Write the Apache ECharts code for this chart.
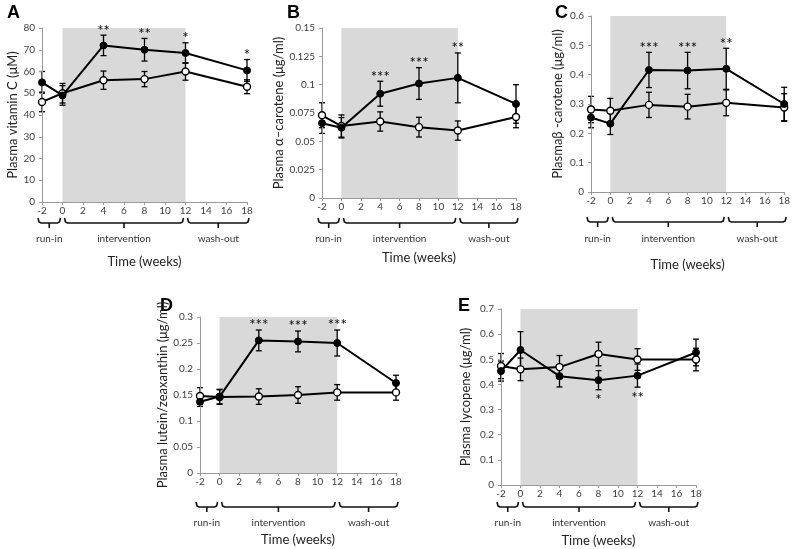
<!DOCTYPE html>
<html><head><meta charset="utf-8">
<script src="https://cdn.jsdelivr.net/npm/echarts@6/dist/echarts.min.js"></script>
<style>html,body{margin:0;padding:0;background:#fff}#c{width:793px;height:549px}</style>
</head><body><div id="c"></div>
<script>
// ---------- data ----------
const weeks = [-2, 0, 4, 8, 12, 18];
const phases = [[-2, 0, 'run-in'], [0, 12, 'intervention'], [12, 18, 'wash-out']];

// A: vitamin C (µM)
const vitCActive     = [55, 49, 72, 70, 68.5, 60.5];
const vitCActiveErr  = [5, 4.5, 4.7, 5.2, 4.7, 5];
const vitCControl    = [46, 50, 56, 56.5, 60, 53];
const vitCControlErr = [4.5, 4.5, 4.2, 3.5, 4, 3.2];
const vitCSig        = ['', '', '**', '**', '*', '*'];

// B: alpha-carotene (µg/ml)
const alphaActive     = [0.066, 0.062, 0.092, 0.101, 0.106, 0.083];
const alphaActiveErr  = [0.009, 0.009, 0.011, 0.014, 0.022, 0.017];
const alphaControl    = [0.073, 0.0635, 0.0675, 0.0625, 0.0595, 0.0715];
const alphaControlErr = [0.011, 0.0098, 0.0085, 0.0087, 0.0085, 0.0095];
const alphaSig        = ['', '', '***', '***', '**', ''];

// C: beta-carotene (µg/ml)
const betaActive     = [0.254, 0.233, 0.416, 0.414, 0.42, 0.30];
const betaActiveErr  = [0.035, 0.037, 0.06, 0.062, 0.07, 0.057];
const betaControl    = [0.281, 0.277, 0.297, 0.291, 0.304, 0.288];
const betaControlErr = [0.045, 0.042, 0.043, 0.042, 0.044, 0.047];
const betaSig        = ['', '', '***', '***', '**', ''];

// D: lutein/zeaxanthin (µg/ml)
const luteinActive     = [0.137, 0.147, 0.255, 0.253, 0.25, 0.173];
const luteinActiveErr  = [0.009, 0.014, 0.02, 0.02, 0.025, 0.015];
const luteinControl    = [0.148, 0.146, 0.147, 0.150, 0.155, 0.155];
const luteinControlErr = [0.016, 0.014, 0.015, 0.016, 0.015, 0.015];
const luteinSig        = ['', '', '***', '***', '***', ''];

// E: lycopene (µg/ml)
const lycoActive     = [0.453, 0.537, 0.433, 0.417, 0.435, 0.527];
const lycoActiveErr  = [0.04, 0.073, 0.043, 0.038, 0.046, 0.053];
const lycoControl    = [0.473, 0.46, 0.469, 0.521, 0.499, 0.499];
const lycoControlErr = [0.05, 0.045, 0.046, 0.047, 0.043, 0.045];
const lycoSig        = ['', '', '', '*', '**', ''];

// ---------- layout ----------
const panels = [
  {letter:'A', grid:{left:42, top:28, width:205, height:174}, yMax:80, yInt:10,
   yName:'Plasma vitamin C (μM)', yGap:22, xGap:53, braceY:223, labelY:239, lp:[7,11],
   a:vitCActive, ae:vitCActiveErr, c:vitCControl, ce:vitCControlErr, sig:vitCSig, below:false},
  {letter:'B', grid:{left:322, top:28, width:194, height:170}, yMax:0.15, yInt:0.025,
   yName:'Plasma α–carotene (μg/ml)', yGap:32, xGap:53, braceY:223, labelY:239, lp:[287,11],
   a:alphaActive, ae:alphaActiveErr, c:alphaControl, ce:alphaControlErr, sig:alphaSig, below:false},
  {letter:'C', grid:{left:591, top:16, width:195, height:176}, yMax:0.6, yInt:0.1,
   yName:'Plasmaβ -carotene (μg/ml)', yGap:27, xGap:66, braceY:222, labelY:239, lp:[555,11],
   a:betaActive, ae:betaActiveErr, c:betaControl, ce:betaControlErr, sig:betaSig, below:false},
  {letter:'D', grid:{left:200, top:317, width:196, height:156}, yMax:0.3, yInt:0.05,
   yName:'Plasma lutein/zeaxanthin (μg/ml)', yGap:28, xGap:60, braceY:507, labelY:523, lp:[160,304],
   a:luteinActive, ae:luteinActiveErr, c:luteinControl, ce:luteinControlErr, sig:luteinSig, below:false},
  {letter:'E', grid:{left:501, top:309, width:195, height:176}, yMax:0.7, yInt:0.1,
   yName:'Plasma lycopene (μg/ml)', yGap:29, xGap:49, braceY:507, labelY:523, lp:[458,304],
   a:lycoActive, ae:lycoActiveErr, c:lycoControl, ce:lycoControlErr, sig:lycoSig, below:true}
];

const FONT = 'Lato';
const grids = [], xAxes = [], yAxes = [], series = [], graphics = [];

panels.forEach((p, gi) => {
  grids.push(Object.assign({containLabel:false}, p.grid));
  xAxes.push({
    type:'value', gridIndex:gi, min:-2, max:18, interval:2, z:3,
    name:'Time (weeks)', nameLocation:'middle', nameGap:p.xGap,
    nameTextStyle:{fontFamily:FONT, fontSize:13, color:'#222'},
    axisLine:{onZero:false, lineStyle:{color:'#9a9a9a', width:1}},
    axisTick:{show:true, length:3, lineStyle:{color:'#9a9a9a'}},
    axisLabel:{fontFamily:FONT, fontSize:10, color:'#404040', margin:4},
    splitLine:{show:false}
  });
  yAxes.push({
    type:'value', gridIndex:gi, min:0, max:p.yMax, interval:p.yInt, z:3,
    name:p.yName, nameLocation:'middle', nameGap:p.yGap, nameRotate:90,
    nameTextStyle:{fontFamily:FONT, fontSize:13, color:'#222'},
    axisLine:{show:true, onZero:false, lineStyle:{color:'#9a9a9a', width:1}},
    axisTick:{show:true, length:3, lineStyle:{color:'#9a9a9a'}},
    axisLabel:{fontFamily:FONT, fontSize:10, color:'#404040', margin:7},
    splitLine:{show:false}
  });

  // shaded intervention period
  const inter = phases.filter(ph => ph[2] === 'intervention');
  series.push({
    type:'custom', xAxisIndex:gi, yAxisIndex:gi, z:1, silent:true, clip:false,
    data: inter.map(ph => [ph[0], ph[1], 0]), encode:{x:[0,1], y:2},
    renderItem(params, api) {
      const tl = api.coord([api.value(0), p.yMax]);
      const br = api.coord([api.value(1), 0]);
      return {type:'rect', shape:{x:tl[0], y:tl[1], width:br[0]-tl[0], height:br[1]-tl[1]},
              style:{fill:'#d9d9d9'}};
    }
  });

  // braces
  series.push({
    type:'custom', xAxisIndex:gi, yAxisIndex:gi, z:2, silent:true, clip:false,
    data: phases.map(ph => [ph[0], ph[1], 0]), encode:{x:[0,1], y:2},
    renderItem(params, api) {
      const i = params.dataIndex;
      let x0 = api.coord([api.value(0), 0])[0] + 2;
      let x1 = api.coord([api.value(1), 0])[0] - 2;
      if (i === 0) x0 -= 6;
      if (i === phases.length - 1) x1 += 4;
      const xm = (x0 + x1) / 2, L = p.braceY;
      const st = {stroke:'#111', lineWidth:1.6, fill:'none'};
      return {type:'group', children:[
        {type:'polyline', shape:{points:[[x0, L-5],[x0+1, L-1],[x0+3, L],[x1-3, L],[x1-1, L-1],[x1, L-5]]}, style:st},
        {type:'line', shape:{x1:xm, y1:L, x2:xm, y2:L+5}, style:st},
        {type:'text', x:xm, y:p.labelY, style:{text:phases[i][2], font:'10px ' + FONT, fill:'#333', align:'center', verticalAlign:'middle'}}
      ]};
    }
  });

  // error bars + significance marks
  [[p.a, p.ae, true], [p.c, p.ce, false]].forEach(([vals, errs, withSig]) => {
    series.push({
      type:'custom', xAxisIndex:gi, yAxisIndex:gi, z:3, silent:true, clip:false,
      data: weeks.map((w, i) => [w, vals[i], errs[i]]), encode:{x:0, y:1},
      renderItem(params, api) {
        const x = api.value(0), m = api.value(1), e = api.value(2);
        const t = api.coord([x, m + e]), b = api.coord([x, m - e]);
        const st = {stroke:'#000', lineWidth:1.3};
        const kids = [
          {type:'line', shape:{x1:t[0], y1:t[1], x2:b[0], y2:b[1]}, style:st},
          {type:'line', shape:{x1:t[0]-3, y1:t[1], x2:t[0]+3, y2:t[1]}, style:st},
          {type:'line', shape:{x1:b[0]-3, y1:b[1], x2:b[0]+3, y2:b[1]}, style:st}
        ];
        const s = withSig ? p.sig[params.dataIndex] : '';
        if (s) {
          kids.push({type:'text', x:t[0], y: p.below ? b[1] + 3 : t[1] + 3,
            style:{text:s, font:'15px ' + FONT, fill:'#000', align:'center',
                   verticalAlign: p.below ? 'top' : 'bottom'}});
        }
        return {type:'group', children:kids};
      }
    });
  });

  // lines with markers
  series.push({
    type:'line', xAxisIndex:gi, yAxisIndex:gi, z:5, silent:true,
    data: weeks.map((w, i) => [w, p.c[i]]),
    symbol:'circle', symbolSize:7, showAllSymbol:true,
    lineStyle:{color:'#000', width:2}, itemStyle:{color:'#fff', borderColor:'#000', borderWidth:1.4}
  });
  series.push({
    type:'line', xAxisIndex:gi, yAxisIndex:gi, z:6, silent:true,
    data: weeks.map((w, i) => [w, p.a[i]]),
    symbol:'circle', symbolSize:7, showAllSymbol:true,
    lineStyle:{color:'#000', width:2}, itemStyle:{color:'#000', borderColor:'#000', borderWidth:1}
  });

  graphics.push({type:'text', left:p.lp[0], top:p.lp[1] - 7,
    style:{text:p.letter, font:'bold 18px "Liberation Sans", Arial, sans-serif', fill:'#000'}});
});

const chart = echarts.init(document.getElementById('c'), null, {renderer:'canvas'});
chart.setOption({
  animation:false,
  backgroundColor:'#fff',
  grid:grids, xAxis:xAxes, yAxis:yAxes, series:series, graphic:graphics
});
</script></body></html>
